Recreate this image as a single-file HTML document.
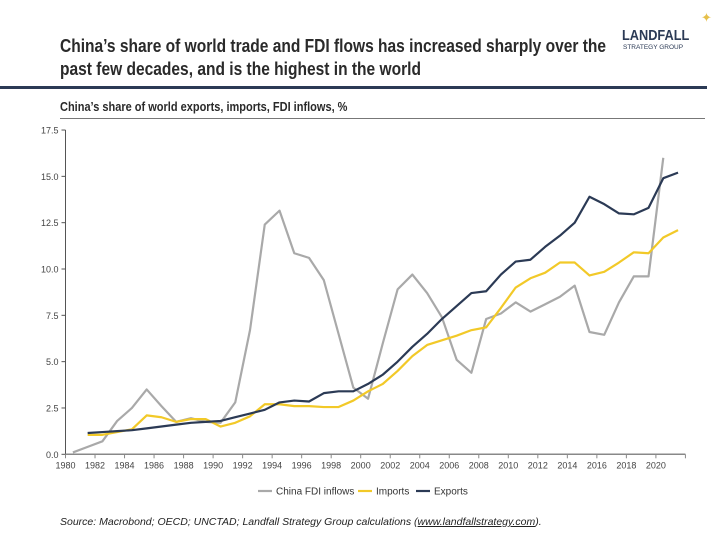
<!DOCTYPE html>
<html><head><meta charset="utf-8"><style>
body{margin:0;background:#fff;width:720px;height:540px;overflow:hidden;font-family:"Liberation Sans",sans-serif;}
.t{position:absolute;color:#222;white-space:nowrap;}
</style></head><body>
<div style="position:relative;width:720px;height:540px;">
<div class="t" style="left:60px;top:34px;font-size:18.5px;line-height:23px;color:#2a2a2a;font-weight:bold;transform:scaleX(0.84);transform-origin:left top;">China’s share of world trade and FDI flows has increased sharply over the<br>past few decades, and is the highest in the world</div>
<div class="t" style="left:622px;top:27px;font-size:15px;color:#2b3a55;font-weight:bold;transform:scaleX(0.85);transform-origin:left top;">LANDFALL</div>
<div class="t" style="left:623px;top:44px;font-size:6.5px;color:#2b3a55;">STRATEGY GROUP</div>
<div class="t" style="left:701px;top:10px;font-size:13px;color:#e6c04a;">✦</div>
<div style="position:absolute;left:0;top:86px;width:707px;height:3px;background:#2b3a55;"></div>
<div class="t" style="left:60px;top:100px;font-size:12.5px;color:#2a2a2a;font-weight:bold;transform:scaleX(0.88);transform-origin:left top;">China’s share of world exports, imports, FDI inflows, %</div>
<div style="position:absolute;left:60px;top:118px;width:645px;height:1px;background:#777;"></div>
<svg id="chart" width="720" height="540" style="position:absolute;left:0;top:0;"></svg>
<div class="t" style="left:60px;top:516px;font-size:10.5px;font-style:italic;color:#222;">Source: Macrobond; OECD; UNCTAD; Landfall Strategy Group calculations (<u>www.landfallstrategy.com</u>).</div>
</div>
<script>
const years = [];
for (let y = 1981; y <= 2021; y++) years.push(y);
const exportsData = [1.15,1.2,1.25,1.3,1.4,1.5,1.6,1.7,1.75,1.8,2.0,2.2,2.4,2.8,2.9,2.85,3.3,3.4,3.4,3.8,4.3,5.0,5.8,6.5,7.3,8.0,8.7,8.8,9.7,10.4,10.5,11.2,11.8,12.5,13.9,13.5,13.0,12.95,13.3,14.9,15.2];
const importsData = [1.05,1.05,1.2,1.35,2.1,2.0,1.75,1.9,1.9,1.5,1.7,2.05,2.7,2.7,2.6,2.6,2.55,2.55,2.9,3.4,3.8,4.5,5.3,5.9,6.15,6.4,6.7,6.85,7.9,9.0,9.5,9.8,10.35,10.35,9.65,9.85,10.35,10.9,10.85,11.7,12.1];
const fdiYears = [];
for (let y = 1980; y <= 2020; y++) fdiYears.push(y);
const fdiData = [0.1,0.4,0.7,1.8,2.5,3.5,2.6,1.75,1.95,1.75,1.7,2.8,6.7,12.4,13.15,10.85,10.6,9.4,6.5,3.6,3.0,6.0,8.9,9.7,8.7,7.4,5.1,4.4,7.3,7.6,8.2,7.7,8.1,8.5,9.1,6.6,6.45,8.2,9.6,9.6,16.0];
const yTicks = [0,2.5,5,7.5,10,12.5,15,17.5];
const xTicks = [];
for (let y = 1980; y <= 2020; y += 2) xTicks.push(y);

const NS = "http://www.w3.org/2000/svg";
const svg = document.getElementById('chart');
const x0 = 65.5, pxYear = 14.76, y0 = 454.3, pxUnit = 18.53;
const X = v => x0 + (v - 1980) * pxYear;
const Y = v => y0 - v * pxUnit;
function mk(tag, attrs) { const e = document.createElementNS(NS, tag); for (const k in attrs) e.setAttribute(k, attrs[k]); svg.appendChild(e); return e; }

const ya = mk('line', {x1:x0, y1:Y(17.5), x2:x0, y2:y0, stroke:'#555', 'stroke-width':1});


const xa = mk('line', {x1:x0, y1:y0, x2:X(2022), y2:y0, stroke:'#888', 'stroke-width':1.5});


yTicks.forEach(v => {
  mk('line', {x1:x0-4, y1:Y(v), x2:x0, y2:Y(v), stroke:'#555'});
  const t = mk('text', {x:x0-7, y:Y(v)+3.5, 'text-anchor':'end', 'font-size':9, fill:'#444', 'font-family':'Liberation Sans'});
  t.textContent = v.toFixed(1);
  
  
});
xTicks.concat([2022]).forEach(v => { mk('line', {x1:X(v), y1:y0, x2:X(v), y2:y0+4, stroke:'#888'}); });
xTicks.forEach(v => {
  const t = mk('text', {x:X(v), y:y0+14, 'text-anchor':'middle', 'font-size':9, fill:'#444', 'font-family':'Liberation Sans'});
  t.textContent = v;
  
  
});
function line(xs, vals, color, w, name) {
  const p = mk('polyline', {points: vals.map((v,i) => X(xs[i]+0.5)+','+Y(v)).join(' '), fill:'none', stroke:color, 'stroke-width':w, 'stroke-linejoin':'round'});
  
  
}
line(fdiYears, fdiData, '#a9a9a9', 2.2, 'fdi-inflows-line');
line(years, importsData, '#f2c928', 2.2, 'imports-line');
line(years, exportsData, '#2b3a55', 2.2, 'exports-line');

const legend = [['China FDI inflows','#a9a9a9',258],['Imports','#f2c928',358],['Exports','#2b3a55',416]];
legend.forEach(([lab,c,lx]) => {
  const g = mk('g', {});
  
  
  const l = document.createElementNS(NS,'line'); l.setAttribute('x1',lx); l.setAttribute('x2',lx+14); l.setAttribute('y1',491); l.setAttribute('y2',491); l.setAttribute('stroke',c); l.setAttribute('stroke-width',2.2); g.appendChild(l);
  const t = document.createElementNS(NS,'text'); t.setAttribute('x',lx+18); t.setAttribute('y',494.5); t.setAttribute('font-size',10); t.setAttribute('fill','#333'); t.setAttribute('font-family','Liberation Sans'); t.textContent = lab; g.appendChild(t);
});
</script>
</body></html>
